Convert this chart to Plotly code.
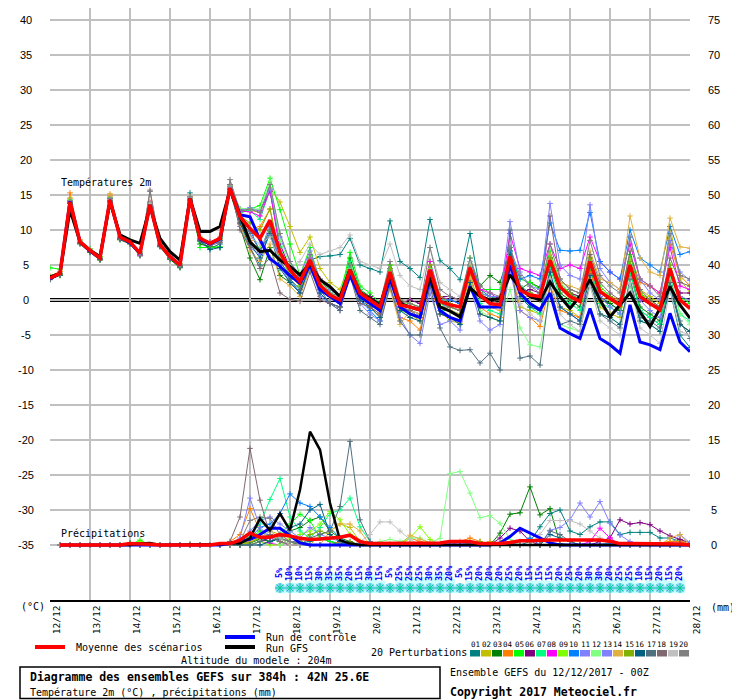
import plotly.graph_objects as go

# GEFS ensemble 12/12/2017 00Z, 6 h steps over 384 h
dates = ["12/12", "13/12", "14/12", "15/12", "16/12", "17/12", "18/12", "19/12", "20/12",
         "21/12", "22/12", "23/12", "24/12", "25/12", "26/12", "27/12", "28/12"]
t_hours = [6 * i for i in range(65)]
p_hours = [6 * i for i in range(1, 65)]
snow_hours = [6 * i for i in range(23, 64)]
snow_pct = [5, 10, 10, 15, 30, 35, 35, 20, 15, 30, 15, 5, 25, 25, 25, 30, 35, 20, 5, 15,
            20, 20, 20, 25, 20, 15, 15, 15, 20, 25, 20, 30, 30, 20, 25, 25, 10, 15, 20, 15, 20]

pert_colors = ["#008080", "#c0c000", "#008000", "#ff8000", "#00ff00", "#800080", "#00ff80",
               "#ff00ff", "#80ff00", "#0080ff", "#8080ff", "#80ff80", "#8080ff", "#e0b040",
               "#80b000", "#006080", "#507080", "#806870", "#c0c0c0", "#808080"]

# temperature 2m (degC), 65 steps
mean_t = [3.1, 3.8, 14.0, 8.3, 7.1, 6.0, 14.3, 9.0, 8.3, 6.7, 13.6, 7.9, 6.2, 5.0, 14.5, 8.8,
          8.1, 8.8, 16.0, 11.9, 10.2, 8.8, 11.4, 6.8, 4.3, 2.6, 5.7, 2.1, 0.7, 0.0, 4.3, 1.0,
          0.0, -1.0, 4.0, -0.7, -1.0, -1.4, 4.3, -0.2, -0.7, -1.0, 4.6, 0.7, -0.5, -0.7, 6.2, 1.4,
          0.7, 0.5, 5.7, 1.9, 0.5, -0.2, 5.5, 1.2, 0.2, -0.7, 5.0, 0.5, -0.5, -1.4, 4.5, 0.0,
          -1.2]
ctrl_t = [3.0, 3.8, 14.1, 8.3, 7.0, 6.0, 14.3, 9.0, 8.2, 6.7, 13.6, 7.9, 6.2, 5.0, 14.5, 8.7,
          8.0, 8.7, 16.0, 12.2, 11.9, 8.6, 5.9, 4.8, 3.5, 2.4, 5.0, 1.5, 0.5, -0.5, 3.5, 0.5,
          -0.5, -1.5, 3.0, -1.0, -2.0, -2.5, 3.0, -1.5, -2.5, -3.0, 1.9, -1.0, -1.0, -1.0, 5.0, 1.0,
          -0.5, -1.4, 1.0, -4.0, -4.8, -5.5, -1.2, -5.5, -6.4, -7.6, -0.7, -6.0, -6.4, -7.1, -1.9, -6.0,
          -7.4]
gfs_t = [3.3, 3.8, 12.9, 8.3, 7.1, 6.2, 14.0, 9.3, 8.6, 8.1, 13.3, 8.8, 6.9, 5.7, 14.5, 9.8,
         9.8, 10.5, 15.7, 11.9, 8.3, 6.9, 7.1, 5.7, 4.8, 3.6, 5.2, 2.9, 1.9, 0.5, 4.3, 1.1,
         0.2, -0.7, 3.6, -0.5, -1.0, -1.4, 3.3, -1.0, -1.6, -2.4, 1.7, 0.5, 0.0, 0.2, 3.6, 1.7,
         0.5, 0.0, 2.6, 0.5, -1.2, 0.5, 2.9, 0.0, -2.4, -0.7, 1.0, -1.7, -3.8, -1.2, 1.9, -0.7,
         -2.6]

t01 = [3.0, 3.6, 14.2, 8.2, 7.0, 5.8, 14.6, 8.8, 8.2, 6.5, 13.4, 7.8, 6.0, 4.7, 15.3, 8.5,
       7.4, 8.0, 16.5, 11.0, 7.5, 5.0, 10.5, 5.5, 3.5, 2.4, 5.7, 6.2, 6.3, 6.5, 8.8, 5.0,
       4.5, 4.0, 11.3, 5.5, 4.5, 3.2, 11.5, 5.6, 4.5, 2.9, 9.5, 1.5, 0.5, 0.0, 7.5, 2.0,
       1.0, 0.3, 6.0, 1.5, 0.8, 0.2, 5.0, 0.5, -0.5, -1.5, 4.0, -1.5, -2.5, -3.5, 1.5, -5.0,
       -6.8]
t02 = [3.3, 4.0, 14.6, 8.5, 7.3, 6.2, 14.8, 9.2, 8.5, 6.9, 13.9, 8.1, 6.3, 5.2, 14.8, 9.0,
       8.2, 9.0, 16.3, 12.8, 12.8, 12.5, 16.0, 14.0, 10.5, 6.8, 9.0, 4.5, 2.5, 1.5, 5.5, 1.0,
       -0.5, -1.0, 5.0, -0.5, -2.0, -3.0, 3.5, -1.5, -3.0, -3.3, 4.0, -2.0, -2.5, -3.0, 4.5, -1.0,
       -1.5, -2.0, 3.5, -1.0, -1.5, -2.5, 4.5, -1.0, -2.0, -2.5, 5.5, 1.5, 0.5, -0.5, 10.5, 3.0,
       1.0]
t03 = [3.0, 3.5, 13.8, 8.0, 6.8, 5.7, 14.0, 8.6, 8.0, 6.3, 13.2, 7.6, 5.8, 4.6, 14.0, 8.0,
       7.6, 7.5, 15.6, 10.5, 6.0, 2.9, 7.5, 3.5, 2.5, 1.0, 5.0, 1.5, 0.5, -0.5, 6.0, 1.5,
       0.5, -0.5, 4.5, -1.0, -1.5, -2.0, 4.0, -0.5, -1.0, -1.5, 5.5, 2.0, 3.5, 2.5, 7.0, 1.5,
       2.5, 1.8, 5.0, 1.0, 0.0, -1.0, 4.5, 0.0, -0.5, -1.5, 4.0, -1.0, -2.0, -3.0, 3.0, -3.5,
       -4.5]
t04 = [3.4, 4.1, 15.3, 8.6, 7.2, 6.1, 15.0, 9.1, 8.4, 6.8, 14.0, 8.0, 6.1, 5.0, 14.7, 8.9,
       8.0, 8.6, 16.2, 11.5, 8.5, 10.5, 13.0, 6.0, 3.8, 2.0, 4.5, 1.5, 0.5, -0.5, 3.5, 0.5,
       -1.0, -2.0, 3.0, -2.5, -3.0, -4.3, 2.0, -2.0, -2.5, -3.0, 3.5, -1.0, -2.0, -2.5, 5.0, -1.5,
       -2.5, -3.8, 2.0, -1.5, -2.0, -2.5, 4.0, 0.0, 0.5, 0.0, 6.5, 2.5, 2.0, 1.0, 8.0, 3.5,
       2.0]
t05 = [4.6, 4.4, 14.3, 8.4, 7.3, 6.2, 14.2, 9.0, 8.3, 6.6, 13.5, 7.8, 6.2, 5.0, 14.5, 7.5,
       7.5, 7.6, 16.2, 12.5, 13.0, 13.5, 17.4, 12.9, 8.0, 3.5, 7.5, 2.5, 1.5, 0.5, 6.8, 2.0,
       1.0, -0.5, 5.0, -0.5, -1.0, -1.5, 5.5, 0.5, 0.0, -0.5, 6.0, 1.5, 1.5, 1.5, 6.5, 3.0,
       2.5, 1.5, 7.0, 2.5, 1.0, 0.5, 6.0, 2.0, 0.5, -0.5, 6.5, 1.0, -0.5, -1.5, 5.0, 0.5,
       -0.5]
t06 = [3.2, 3.9, 14.1, 8.4, 7.1, 6.0, 14.5, 9.0, 8.3, 6.7, 13.7, 8.0, 6.2, 5.1, 14.5, 8.8,
       8.2, 8.9, 16.0, 13.0, 13.0, 12.8, 15.5, 8.0, 4.5, 3.0, 6.0, 2.5, 0.5, -0.5, 4.0, 0.5,
       0.5, -0.5, 3.5, -0.5, 0.0, -0.5, 4.0, 0.5, 0.5, 0.0, 5.0, 1.0, -0.5, -1.0, 5.5, 1.0,
       1.5, 1.0, 6.0, 2.0, 1.0, 0.5, 5.0, 1.0, 0.5, -0.5, 4.5, 0.0, -0.5, -1.0, 3.5, 1.0,
       1.0]
t07 = [3.1, 3.7, 13.9, 8.3, 7.0, 6.0, 14.2, 9.0, 8.4, 6.6, 13.5, 7.9, 6.2, 5.0, 14.4, 8.6,
       8.0, 8.7, 16.1, 12.5, 12.8, 11.5, 15.8, 7.5, 4.0, 2.0, 5.0, 2.0, 1.0, 0.5, 5.5, 1.5,
       0.0, -1.5, 3.5, -1.0, -1.5, -2.0, 3.0, -1.5, -1.5, -2.0, 3.0, -0.5, -1.5, -2.0, 6.5, 0.5,
       -1.0, -2.0, 4.5, 0.5, -0.5, -1.5, 5.0, -0.5, -1.0, -2.0, 4.0, -1.5, -2.5, -3.5, 3.5, -2.0,
       -3.0]
t08 = [3.2, 3.8, 14.1, 8.3, 7.0, 5.9, 14.4, 9.0, 8.2, 6.4, 13.8, 7.8, 6.1, 4.8, 14.6, 8.7,
       8.3, 8.8, 16.1, 12.7, 12.6, 12.0, 15.7, 7.0, 4.5, 2.5, 6.0, 2.0, 0.5, -0.5, 4.5, 1.0,
       -0.5, -1.5, 4.0, -0.5, -1.0, -1.0, 5.5, 0.5, 0.0, -0.5, 5.5, 1.5, 1.0, 0.0, 9.5, 4.5,
       4.0, 3.5, 8.0, 4.5, 5.0, 4.5, 9.0, 5.5, 4.0, 3.0, 8.0, 3.0, 2.0, 1.0, 7.5, 2.0,
       1.5]
t09 = [3.0, 3.7, 14.0, 8.2, 7.1, 6.1, 14.3, 8.9, 8.3, 6.7, 13.6, 7.9, 6.2, 5.0, 14.4, 8.8,
       8.0, 8.5, 16.0, 11.0, 8.0, 7.5, 10.0, 5.0, 3.0, 1.5, 5.5, 2.0, 0.5, -0.5, 4.5, 0.5,
       -0.5, -1.5, 3.5, -1.5, -2.0, -2.5, 4.5, 0.0, -1.0, -1.5, 5.0, 0.5, -0.5, -1.0, 6.0, 1.5,
       0.5, 0.0, 5.5, 2.0, 0.5, 0.0, 6.0, 1.5, 0.0, -1.0, 5.5, 1.0, 0.0, -1.0, 4.5, 0.0,
       -1.0]
t10 = [3.1, 3.8, 14.0, 8.3, 7.2, 6.0, 14.3, 9.0, 8.2, 6.6, 13.7, 7.9, 6.2, 5.0, 14.6, 8.8,
       8.1, 8.8, 16.1, 11.5, 10.0, 7.0, 9.5, 5.0, 3.0, 1.0, 4.5, 1.0, -0.5, -1.0, 3.5, 0.0,
       -1.5, -3.0, 3.0, -1.5, -1.5, -2.0, 4.5, 0.0, 0.0, -0.5, 5.5, 1.0, 0.5, 0.5, 7.0, 3.0,
       3.5, 3.0, 11.0, 7.1, 7.0, 7.1, 12.5, 5.5, 4.0, 3.0, 10.0, 6.0, 5.0, 4.0, 10.5, 6.5,
       6.9]
t11 = [3.2, 3.9, 14.2, 8.4, 7.1, 6.0, 14.2, 9.0, 8.3, 6.8, 13.5, 7.8, 6.3, 5.0, 14.3, 8.8,
       8.2, 8.9, 16.3, 12.8, 13.2, 12.7, 16.0, 9.0, 5.5, 3.5, 7.0, 3.0, 1.5, 0.5, 4.5, 0.5,
       -0.5, -1.0, 4.0, -1.0, -1.5, -2.0, 4.0, -1.0, -0.5, -1.0, 5.0, 1.0, 0.5, 0.5, 11.2, 4.0,
       2.0, 1.5, 13.8, 5.0, 3.5, 3.0, 13.6, 4.5, 2.5, 1.5, 9.0, 3.0, 1.0, 0.0, 8.5, 4.0,
       2.8]
t12 = [3.3, 3.9, 14.1, 8.5, 7.2, 6.1, 14.3, 9.1, 8.4, 6.7, 13.6, 8.0, 6.2, 5.0, 14.5, 8.7,
       8.1, 8.9, 16.4, 13.1, 13.0, 13.0, 17.0, 8.5, 5.0, 2.5, 6.5, 2.5, 1.0, 0.0, 4.5, 1.0,
       0.0, -1.0, 4.0, -0.5, -0.5, -1.0, 4.5, -0.5, -1.5, -2.5, 3.0, -1.5, -2.5, -3.0, 1.5, -4.0,
       -6.4, -6.7, 0.5, -3.5, -4.0, -4.5, 2.5, -2.0, -2.5, -3.5, 2.0, -3.0, -3.5, -4.5, 3.0, -2.0,
       -3.5]
t13 = [3.1, 3.8, 14.1, 8.2, 7.0, 5.8, 14.1, 8.9, 8.2, 6.5, 13.5, 7.7, 6.0, 4.8, 14.3, 8.6,
       8.0, 8.4, 15.8, 10.5, 7.5, 6.5, 11.0, 5.0, 2.5, 1.0, 5.0, 0.5, -0.5, -1.5, 3.5, -0.5,
       -2.0, -3.0, 2.0, -2.5, -5.0, -6.2, 1.0, -3.5, -3.0, -4.3, 2.0, -3.0, -4.3, -3.5, 4.0, -1.5,
       -2.5, -3.0, 4.0, -1.0, -2.0, -3.0, 5.0, 0.5, -1.0, -2.0, 5.0, 0.0, -1.5, -2.5, 4.0, 0.5,
       0.0]
t14 = [3.0, 3.8, 14.5, 8.3, 7.1, 5.9, 15.2, 9.0, 8.3, 6.6, 13.6, 7.9, 6.1, 4.9, 14.5, 8.7,
       8.0, 8.7, 16.0, 10.8, 7.0, 5.5, 8.0, 3.0, 2.0, 0.5, 4.5, 1.5, 0.5, -0.5, 4.0, 0.5,
       -1.0, -2.5, 1.5, -3.5, -1.5, -2.0, 3.5, -1.0, -1.5, -2.0, 3.0, -1.0, -1.0, -1.5, 5.0, 0.5,
       0.5, 0.5, 6.5, 2.5, 2.0, 1.5, 7.0, 3.0, 2.5, 1.5, 12.0, 6.0, 4.0, 3.5, 11.7, 7.6,
       7.4]
t15 = [3.2, 3.8, 14.0, 8.3, 7.1, 6.1, 14.3, 9.0, 8.3, 6.7, 13.6, 8.0, 6.2, 5.0, 14.5, 8.8,
       8.1, 8.8, 16.0, 12.0, 11.0, 10.0, 13.0, 6.5, 3.5, 2.0, 5.5, 2.0, 0.5, 0.0, 4.0, 1.0,
       0.0, -1.0, 4.5, 0.0, -0.5, -1.0, 5.0, 0.5, -0.5, -1.0, 5.0, 1.0, 0.0, 0.0, 6.0, 1.5,
       1.0, 0.5, 6.0, 2.0, 1.0, 0.0, 6.0, 1.5, 0.5, -0.5, 5.5, 1.0, 0.0, -1.0, 5.0, 0.0,
       -1.0]
t16 = [2.9, 3.6, 13.8, 8.1, 6.9, 5.8, 14.0, 8.7, 8.1, 6.5, 13.4, 7.7, 6.0, 4.8, 14.2, 8.4,
       7.2, 7.5, 15.8, 11.0, 8.0, 6.0, 9.5, 4.5, 2.5, 1.0, 5.0, 1.0, -0.5, -1.0, 4.0, 0.0,
       -1.0, -2.5, 3.5, -1.5, -2.5, -3.0, 3.0, -2.0, -2.5, -3.5, 2.5, -2.0, -2.5, -3.0, 6.5, 0.5,
       -1.0, -1.5, 4.0, -1.0, -2.0, -3.0, 3.5, -2.0, -2.5, -3.5, 2.5, -3.0, -3.5, -4.5, 2.0, -3.5,
       -4.5]
t17 = [3.0, 3.7, 14.0, 8.2, 7.0, 5.9, 14.2, 8.8, 8.2, 6.6, 13.5, 7.8, 6.1, 4.9, 14.4, 8.7,
       7.9, 8.5, 16.0, 11.5, 9.5, 7.0, 10.0, 5.0, 3.0, 1.5, 5.5, 1.5, -0.5, -1.5, 3.5, -1.5,
       -2.5, -3.5, 2.0, -3.0, -5.0, -5.0, 2.0, -4.0, -6.7, -7.2, -7.1, -9.0, -7.6, -10.0, 10.0, -8.3,
       -8.0, -9.3, 2.0, -3.5, -3.0, -3.5, 2.5, -2.0, -3.0, -4.0, 3.0, -2.5, -3.0, -4.0, 2.5, -3.0,
       -5.5]
t18 = [3.0, 3.6, 13.9, 8.1, 7.0, 5.9, 14.1, 8.7, 8.2, 6.5, 15.7, 7.7, 6.0, 4.8, 14.3, 8.5,
       7.8, 8.2, 16.5, 10.0, 7.5, 4.5, 6.0, 1.0, 0.1, -0.2, 4.0, 0.0, -0.5, -1.0, 3.5, -0.5,
       -1.0, -2.0, 3.5, -1.0, -1.5, -2.5, 4.0, -1.0, -1.0, -1.5, 4.5, 0.5, 0.0, -0.5, 6.0, 1.5,
       0.5, 0.0, 12.0, 3.0, 1.5, 1.0, 6.5, 2.5, 1.0, 0.0, 7.0, 1.5, 0.0, -1.0, 6.0, 2.5,
       2.0]
t19 = [3.2, 3.9, 14.2, 8.4, 7.2, 6.1, 14.4, 9.1, 8.3, 6.8, 13.8, 8.0, 6.2, 5.1, 14.6, 8.9,
       8.2, 8.8, 16.1, 12.0, 9.0, 8.0, 9.0, 5.5, 4.5, 5.5, 8.0, 6.5, 7.0, 7.5, 9.3, 5.5,
       5.0, 4.5, 8.0, 3.5, 2.0, 1.5, 7.5, 2.5, 1.5, 0.5, 5.5, 0.5, -0.5, -1.0, 5.0, -0.5,
       -2.0, -3.0, 3.0, -2.0, -3.5, -4.5, 2.0, -3.0, -4.0, -5.0, 2.5, -4.0, -5.0, -6.2, 1.5, -4.5,
       -5.0]
t20 = [3.0, 3.7, 14.2, 8.2, 7.1, 6.0, 14.5, 9.0, 8.3, 6.7, 15.5, 8.0, 6.2, 5.0, 14.8, 8.8,
       8.2, 8.8, 17.2, 12.7, 13.0, 12.5, 16.5, 9.5, 5.5, 3.0, 6.5, 3.0, 1.0, 0.5, 5.0, 1.0,
       0.0, -0.5, 5.5, 0.0, -0.5, -1.0, 7.5, 1.5, 0.5, 0.0, 6.0, 2.0, 1.0, 0.5, 7.5, 3.5,
       2.0, 1.0, 8.0, 3.0, 1.5, 1.0, 8.5, 3.5, 2.0, 1.0, 9.0, 3.0, 2.0, 0.5, 9.5, 3.5,
       3.0]

# precipitation (mm per 6 h), 64 steps
mean_p = [0, 0, 0, 0, 0, 0, 0, 0.2, 0.2, 0.1, 0, 0, 0.1, 0.1, 0, 0,
          0.2, 0.2, 0.7, 1.7, 1.1, 1.1, 1.5, 1.3, 0.95, 0.8, 0.85, 0.95, 1.1, 1.4, 0.5, 0.2,
          0.2, 0.2, 0.2, 0.2, 0.2, 0.2, 0.3, 0.5, 0.5, 0.5, 0.2, 0.2, 0.2, 0.35, 0.6, 0.6,
          0.7, 0.7, 0.7, 0.7, 0.7, 0.7, 0.7, 0.55, 0.2, 0.2, 0.2, 0.2, 0.15, 0.15, 0.15, 0]
ctrl_p = [0, 0, 0, 0, 0, 0, 0, 0, 0, 0, 0, 0, 0, 0, 0, 0,
          0, 0.2, 0.5, 0.8, 1.5, 2.4, 2.4, 1.4, 0.3, 0, 0, 0, 0, 0, 0, 0,
          0, 0, 0, 0, 0, 0, 0, 0, 0, 0, 0, 0, 0.3, 1.2, 2.4, 1.7,
          1.0, 0.3, 0, 0, 0, 0, 0, 0, 0, 0, 0, 0, 0, 0, 0, 0]
gfs_p = [0, 0, 0, 0, 0, 0, 0, 0, 0.2, 0.3, 0, 0, 0, 0, 0, 0,
         0.1, 0.3, 0.2, 1.0, 3.8, 2.1, 4.5, 2.1, 7.9, 16.2, 13.6, 6.0, 0.7, 0.2, 0, 0,
         0, 0, 0, 0, 0, 0, 0, 0, 0, 0, 0, 0, 0, 0, 0, 0,
         0, 0, 0, 0, 0, 0, 0, 0, 0, 0, 0, 0, 0, 0, 0, 0]

p01 = [0, 0, 0, 0, 0, 0, 0, 0, 0, 0, 0, 0, 0, 0, 0, 0,
       0, 0, 0.3, 0.8, 1.0, 0.5, 0.8, 0.5, 0.3, 0.5, 1.0, 0.5, 0.3, 0, 0, 0,
       0, 0, 0, 0, 0, 0, 0, 0, 0, 0, 0, 0, 0, 0, 0, 0.5,
       2.6, 4.5, 5.0, 2.0, 1.5, 2.6, 3.3, 3.3, 1.5, 1.8, 1.8, 1.8, 1.0, 1.0, 0.5, 0]
p02 = [0, 0, 0, 0, 0, 0, 0, 0, 0, 0, 0, 0, 0, 0, 0, 0,
       0, 0, 0, 0.5, 1.0, 2.0, 1.5, 0.5, 0, 0, 1.5, 2.0, 3.0, 2.5, 0.5, 0,
       0, 0, 0, 0.3, 0, 0, 0, 0, 0, 0, 0, 0.5, 0.3, 0, 0, 0,
       0, 0, 0, 0, 0, 0, 0, 0, 0, 0, 0, 0.3, 0, 0.5, 0.8, 0]
p03 = [0, 0, 0, 0, 0, 0, 0, 0.3, 0.3, 0, 0, 0, 0, 0, 0, 0,
       0, 0, 0.5, 0.3, 0.8, 0.5, 1.0, 2.0, 2.5, 3.5, 4.0, 2.0, 1.0, 0.5, 0, 0,
       0, 0, 0, 0, 0, 0, 0, 0, 0, 0, 0, 0, 1.7, 4.4, 4.6, 8.3,
       4.3, 5.2, 0.2, 0, 0, 0, 0, 0, 0, 0, 0, 0, 0, 0, 0, 0]
p04 = [0, 0, 0, 0, 0, 0, 0, 0, 0, 0, 0, 0, 0, 0, 0, 0,
       0, 0.5, 1.5, 5.2, 2.0, 1.0, 0.5, 0, 0, 0, 0, 0, 0.5, 0.3, 0, 0,
       0, 0, 0, 1.0, 0.5, 0, 0, 0, 0.5, 1.0, 0.5, 0, 0, 0, 0, 0,
       0, 0, 0, 0, 0, 0, 0, 0, 0, 0, 0, 0, 0.3, 0.5, 0.5, 0]
p05 = [0, 0, 0, 0, 0, 0, 0, 0, 0.7, 0, 0, 0, 0, 0, 0, 0,
       0, 0, 0, 1.0, 2.0, 1.0, 1.5, 3.0, 4.4, 3.5, 1.0, 0.5, 0, 0, 0, 0,
       0, 0, 0, 0, 0, 0, 0, 0, 0, 0, 0, 0, 0, 0, 0, 0,
       0, 0, 0, 0, 0, 0, 0, 0, 0, 0, 0, 0, 0, 0, 0, 0]
p06 = [0, 0, 0, 0, 0, 0, 0, 0, 0, 0, 0, 0, 0, 0, 0, 0,
       0, 0, 0, 0, 0.5, 1.0, 0.5, 0, 0, 0, 0, 0, 0, 0, 0, 0,
       0, 0, 0, 0, 0, 0, 0, 0, 0, 0, 0, 0, 1.0, 2.4, 2.0, 0.5,
       0, 0, 0, 0, 0, 0, 0.5, 1.0, 3.6, 3.0, 3.2, 2.9, 2.0, 1.3, 0.8, 0.3]
p07 = [0, 0, 0, 0, 0, 0, 0, 0, 0, 0, 0, 0, 0, 0, 0, 0,
       0, 0, 0, 1.5, 3.0, 6.5, 9.5, 4.0, 2.0, 1.0, 2.5, 4.5, 5.0, 6.7, 2.6, 0.5,
       0, 0, 0, 0, 0, 0, 0, 0, 0, 0, 0, 0, 0, 0, 0, 0,
       0, 0, 0, 0, 0, 0, 0, 0.3, 0, 0, 0, 0, 0, 0, 0, 0]
p08 = [0, 0, 0, 0, 0, 0, 0, 0, 0, 0, 0, 0, 0, 0, 0, 0,
       0, 0, 0, 0, 0.5, 0.3, 0, 0.5, 0.3, 0, 0, 0, 0, 0, 0, 0,
       0, 0, 0, 0, 0, 0, 0, 0, 0, 0, 0, 0, 0, 0, 0, 0,
       0, 0, 0, 0, 0, 0.5, 2.4, 1.0, 0, 0, 0, 0, 0, 0, 0, 0]
p09 = [0, 0, 0, 0, 0, 0, 0, 0, 0.5, 0, 0, 0, 0, 0, 0, 0,
       0, 0, 0.3, 0, 0.5, 0, 0, 1.0, 1.5, 2.0, 3.0, 4.8, 3.6, 1.5, 0.5, 0,
       0, 0, 0, 1.0, 2.6, 0.8, 0, 0, 0, 0, 0, 0, 0.3, 0, 0, 0,
       0, 0, 0, 0, 0, 0, 0, 0, 0, 0, 0, 0, 0, 0, 0, 0]
p10 = [0, 0, 0, 0, 0, 0, 0, 0, 0, 0, 0, 0, 0, 0, 0, 0,
       0, 0, 0.5, 1.0, 2.5, 3.0, 4.5, 7.3, 6.0, 5.5, 4.0, 2.5, 1.0, 0, 0, 0,
       0, 0, 0, 0, 0, 0, 0, 0, 0, 0, 0, 0, 0, 0, 0.5, 1.0,
       0, 0, 0, 0, 0, 0, 0, 0, 0, 0, 0, 0, 0, 0, 0, 0]
p11 = [0, 0, 0, 0, 0, 0, 0, 0, 0, 0, 0, 0, 0, 0, 0, 0,
       0, 0, 1.0, 6.7, 2.5, 1.0, 0.5, 0, 0, 0, 0, 0, 0, 0, 0, 0,
       0, 0, 0, 0, 0, 0, 0, 0, 0, 0, 0, 0, 0, 0, 0, 0,
       0, 2.1, 2.5, 3.6, 6.0, 4.0, 6.2, 3.1, 1.4, 0.5, 0, 0, 0, 0, 0, 0]
p12 = [0, 0, 0, 0, 0, 0, 0, 0, 0, 0, 0, 0, 0, 0, 0, 0,
       0, 0, 0, 0, 0.5, 1.5, 0, 0.5, 0, 0, 0, 0, 0, 0, 0, 0,
       0.5, 0.8, 0.5, 1.0, 1.0, 0.3, 0.95, 10.2, 10.5, 7.4, 3.9, 4.2, 3.1, 0.8, 0, 0,
       0, 0, 0, 0, 0, 0, 0, 0, 0, 0, 0, 0, 0, 0, 0, 0]
p13 = [0, 0, 0, 0, 0, 0, 0, 0, 0, 0, 0, 0, 0, 0, 0, 0,
       0, 0, 0.5, 2.0, 3.5, 4.0, 3.0, 2.0, 1.0, 2.5, 1.5, 1.0, 0.5, 0, 0, 0.5,
       0, 0, 0, 0, 0, 0, 0, 0, 0, 0, 0, 0, 0, 0, 0, 0,
       0, 0, 0, 0, 0, 0, 0, 0, 0, 0, 0, 0, 0, 0, 1.5, 0.3]
p14 = [0, 0, 0, 0, 0, 0, 0, 0, 0, 0, 0, 0, 0, 0, 0, 0,
       0, 0, 0, 0.5, 1.0, 2.0, 1.0, 0, 0, 0, 0, 2.0, 3.0, 3.0, 2.0, 0,
       0, 0, 0, 1.4, 0.8, 0.3, 0, 0, 0, 0, 0, 0, 0, 0, 0, 0,
       0, 0, 0, 0, 0, 0, 0, 0, 0, 0, 0, 0, 0, 1.0, 1.5, 0]
p15 = [0, 0, 0, 0, 0, 0, 0, 0, 0, 0, 0, 0, 0, 0.2, 0, 0,
       0, 0, 0, 0.3, 1.0, 1.5, 1.0, 0, 0.5, 1.5, 2.0, 1.5, 0.5, 0, 0, 0,
       0, 0, 0, 0, 0, 0, 0, 0, 0, 0.3, 0.5, 0, 0, 0, 0, 0,
       0, 0, 0, 0, 0, 0, 0, 0, 0, 0, 0, 0, 0, 0, 0, 0]
p16 = [0, 0, 0, 0, 0, 0, 0, 0, 0, 0, 0, 0, 0, 0, 0, 0,
       0, 0, 0, 0, 0, 0.5, 1.0, 2.5, 3.0, 5.0, 5.8, 1.5, 0.5, 0, 0, 0,
       0, 0, 0, 0, 0, 0, 0, 0, 0, 0, 0, 0, 0, 0, 0, 0,
       0, 1.5, 1.0, 0.5, 0, 0, 0, 0, 0, 0, 0, 0, 0, 0, 0, 0]
p17 = [0, 0, 0, 0, 0, 0, 0, 0, 0, 0, 0, 0, 0, 0, 0, 0,
       0, 0, 0, 0, 0.5, 1.5, 1.0, 0.5, 0, 1.0, 1.5, 2.0, 5.5, 14.8, 3.6, 0.5,
       0, 0, 0, 0, 0, 0, 0, 0, 0, 0, 0, 0, 0, 0, 0, 0,
       0, 2.0, 1.5, 0.5, 0, 0, 0, 0, 0, 0, 0, 0, 0, 0, 0, 0]
p18 = [0, 0, 0, 0, 0, 0, 0, 0, 0, 0, 0, 0, 0, 0, 0, 0,
       0, 0.5, 4.0, 13.8, 6.4, 1.4, 0.5, 0, 0, 0, 0, 0, 0, 0, 0, 0,
       0, 0, 0, 0, 0, 0, 0, 0, 0, 0, 0, 0, 0, 0, 0, 0,
       0, 0, 0, 0, 0, 0, 0, 0, 0, 0, 0, 0, 0, 0, 0, 0]
p19 = [0, 0, 0, 0, 0, 0, 0, 0, 0, 0, 0, 0, 0, 0, 0, 0,
       0, 0, 0.5, 1.5, 1.0, 2.0, 1.0, 0, 0, 0, 0, 0, 0, 0, 0.5, 1.5,
       3.3, 3.3, 2.0, 0.8, 0, 0, 0, 0, 0, 0, 0, 0, 0, 0, 0, 0,
       1.5, 3.5, 3.5, 3.5, 3.0, 2.0, 1.0, 0, 0, 0, 0, 0, 0, 0, 0, 0]
p20 = [0, 0, 0, 0, 0, 0, 0, 0, 0, 0, 0, 0, 0, 0, 0, 0,
       0, 0, 0.5, 3.5, 4.0, 3.8, 1.5, 0.5, 0.3, 0, 0, 0, 0, 0, 0, 0,
       0, 0, 0, 0, 0, 0, 0, 0, 0, 0, 0, 0, 0, 0, 0, 0,
       0, 0, 0, 0, 0, 0, 0, 0, 0, 0, 0, 0, 0, 0, 0, 0]

pert_temp = [t01, t02, t03, t04, t05, t06, t07, t08, t09, t10,
             t11, t12, t13, t14, t15, t16, t17, t18, t19, t20]
pert_precip = [p01, p02, p03, p04, p05, p06, p07, p08, p09, p10,
               p11, p12, p13, p14, p15, p16, p17, p18, p19, p20]
for s in pert_temp + [mean_t, ctrl_t, gfs_t]:
    assert len(s) == 65
for s in pert_precip + [mean_p, ctrl_p, gfs_p]:
    assert len(s) == 64

MONO = "DejaVu Sans Mono"
SANS = "Liberation Sans"

# the page body has an 8px margin: the figure is drawn 8px right and down,
# so it is sized 732x692 and the plot area sits at page x 50-690, y 8-600
PLOT_H = 592
Y_LOW = -300 / 7
Y_HIGH = Y_LOW + PLOT_H / 7


def px(x):
    # page x -> paper x
    return (x - 50) / 640


def py(y):
    # page y -> paper y
    return (600 - y) / PLOT_H


fig = go.Figure()

# snow probability band and snowflakes
fig.add_trace(go.Bar(x=snow_hours, y=[1 + p / 19 for p in snow_pct], base=-41.9, width=6,
                     marker=dict(color="#ccffff", line=dict(width=0)), hoverinfo="skip"))
fig.add_trace(go.Scatter(x=snow_hours, y=[-41.14] * len(snow_hours), mode="markers",
                         marker=dict(symbol="circle", size=10, color="#8fd8fb",
                                     line=dict(width=0)), hoverinfo="skip"))
fig.add_trace(go.Scatter(x=snow_hours, y=[-41.14] * len(snow_hours), mode="markers",
                         marker=dict(symbol="asterisk-open", size=8,
                                     line=dict(width=1, color="#3f9de8")), hoverinfo="skip"))

for c, s in zip(pert_colors, pert_temp):
    fig.add_trace(go.Scatter(x=t_hours, y=s, mode="lines+markers", yaxis="y",
                             line=dict(color=c, width=1),
                             marker=dict(symbol="cross-thin", size=4, line=dict(color=c, width=1)),
                             hoverinfo="skip"))
fig.add_trace(go.Scatter(x=t_hours, y=ctrl_t, mode="lines", line=dict(color="#0000ff", width=3)))
fig.add_trace(go.Scatter(x=t_hours, y=gfs_t, mode="lines", line=dict(color="#000000", width=3)))
fig.add_trace(go.Scatter(x=t_hours, y=mean_t, mode="lines", line=dict(color="#ff0000", width=3.5)))

for c, s in zip(pert_colors, pert_precip):
    fig.add_trace(go.Scatter(x=p_hours, y=s, mode="lines+markers", yaxis="y2",
                             line=dict(color=c, width=1),
                             marker=dict(symbol="cross-thin", size=4, line=dict(color=c, width=1)),
                             hoverinfo="skip"))
fig.add_trace(go.Scatter(x=p_hours, y=ctrl_p, mode="lines", yaxis="y2",
                         line=dict(color="#0000ff", width=3)))
fig.add_trace(go.Scatter(x=p_hours, y=gfs_p, mode="lines", yaxis="y2",
                         line=dict(color="#000000", width=2.5)))
fig.add_trace(go.Scatter(x=p_hours, y=mean_p, mode="lines", yaxis="y2",
                         line=dict(color="#ff0000", width=3.5)))

ann = []
for v in range(-35, 45, 5):
    ann.append(dict(x=px(26), y=v, xref="paper", yref="y", text=str(v), showarrow=False,
                    xanchor="center", font=dict(family=SANS, size=11, color="#000")))
    ann.append(dict(x=px(714), y=v, xref="paper", yref="y", text=str(v + 35), showarrow=False,
                    xanchor="center", font=dict(family=SANS, size=11, color="#000")))
for h, p in zip(snow_hours, snow_pct):
    ann.append(dict(x=h, y=-39.0, xref="x", yref="y", text=f"{p}%", showarrow=False,
                    textangle=-90, xshift=-1,
                    font=dict(family=MONO, size=8.5, color="#0000ff", weight="bold")))


def label(x, y, text, size=10, bold=False, anchor="left"):
    ann.append(dict(x=px(x), y=py(y), xref="paper", yref="paper", text=text, showarrow=False,
                    xanchor=anchor, yanchor="middle",
                    font=dict(family=MONO, size=size, color="#000",
                              weight="bold" if bold else "normal")))


label(59, 182, "Températures 2m")
label(59, 533, "Précipitations")
label(19, 606, "(°C)")
label(709, 607, "(mm)")
label(74, 647, "Moyenne des scénarios")
label(264, 637, "Run de contrôle")
label(264, 648, "Run GFS")
label(179, 660, "Altitude du modele : 204m")
label(28, 677, "Diagramme des ensembles GEFS sur 384h : 42N 25.6E", size=11.5, bold=True)
label(28, 692, "Température 2m (°C) , précipitations (mm)")
label(369, 652, "20 Perturbations")
label(448, 672, "Ensemble GEFS du 12/12/2017 - 00Z")
label(448, 692, "Copyright 2017 Meteociel.fr", size=11.5, bold=True)
for k in range(20):
    label(475 + 11 * k, 644, f"{k + 1:02d}", size=7.5, anchor="center")

shapes = [
    dict(type="line", xref="x", yref="y", x0=0, x1=384, y0=0.21, y1=0.21,
         line=dict(color="#000", width=1.2), layer="below"),
    dict(type="line", xref="x", yref="y", x0=0, x1=384, y0=-0.21, y1=-0.21,
         line=dict(color="#000", width=1.2), layer="below"),
    dict(type="line", xref="paper", yref="paper", x0=px(35), x1=px(65), y0=py(647), y1=py(647),
         line=dict(color="#ff0000", width=4)),
    dict(type="line", xref="paper", yref="paper", x0=px(225), x1=px(255), y0=py(637), y1=py(637),
         line=dict(color="#0000ff", width=4)),
    dict(type="line", xref="paper", yref="paper", x0=px(225), x1=px(255), y0=py(647), y1=py(647),
         line=dict(color="#000000", width=4)),
    dict(type="rect", xref="paper", yref="paper", x0=px(20), x1=px(440), y0=py(667), y1=py(698.5),
         line=dict(color="#000", width=1.5)),
]
for k, c in enumerate(pert_colors):
    shapes.append(dict(type="rect", xref="paper", yref="paper",
                       x0=px(470 + 11 * k), x1=px(480 + 11 * k), y0=py(650), y1=py(656.5),
                       fillcolor=c, line=dict(width=0)))

fig.update_layout(
    width=732, height=692,
    margin=dict(l=42, r=50, t=0, b=100),
    paper_bgcolor="white", plot_bgcolor="white",
    showlegend=False,
    xaxis=dict(range=[0, 384], tickvals=[24 * d for d in range(17)], ticktext=dates,
               tickangle=-90, ticklabelshift=7, ticklabelstandoff=0,
               tickfont=dict(family=MONO, size=9.5, color="#000"),
               showgrid=True, gridcolor="#c0c0c0", gridwidth=1.5,
               showline=True, linecolor="#000", linewidth=1.5, zeroline=False, ticks=""),
    yaxis=dict(range=[Y_LOW, Y_HIGH], tickvals=list(range(-35, 45, 5)),
               showticklabels=False, showgrid=True, gridcolor="#c0c0c0", gridwidth=1.5,
               zeroline=False, showline=False, ticks=""),
    yaxis2=dict(range=[Y_LOW + 35, Y_HIGH + 35], overlaying="y", side="right",
                showticklabels=False, showgrid=False, zeroline=False, showline=False),
    annotations=ann,
    shapes=shapes,
)

fig.write_html("out.html")
